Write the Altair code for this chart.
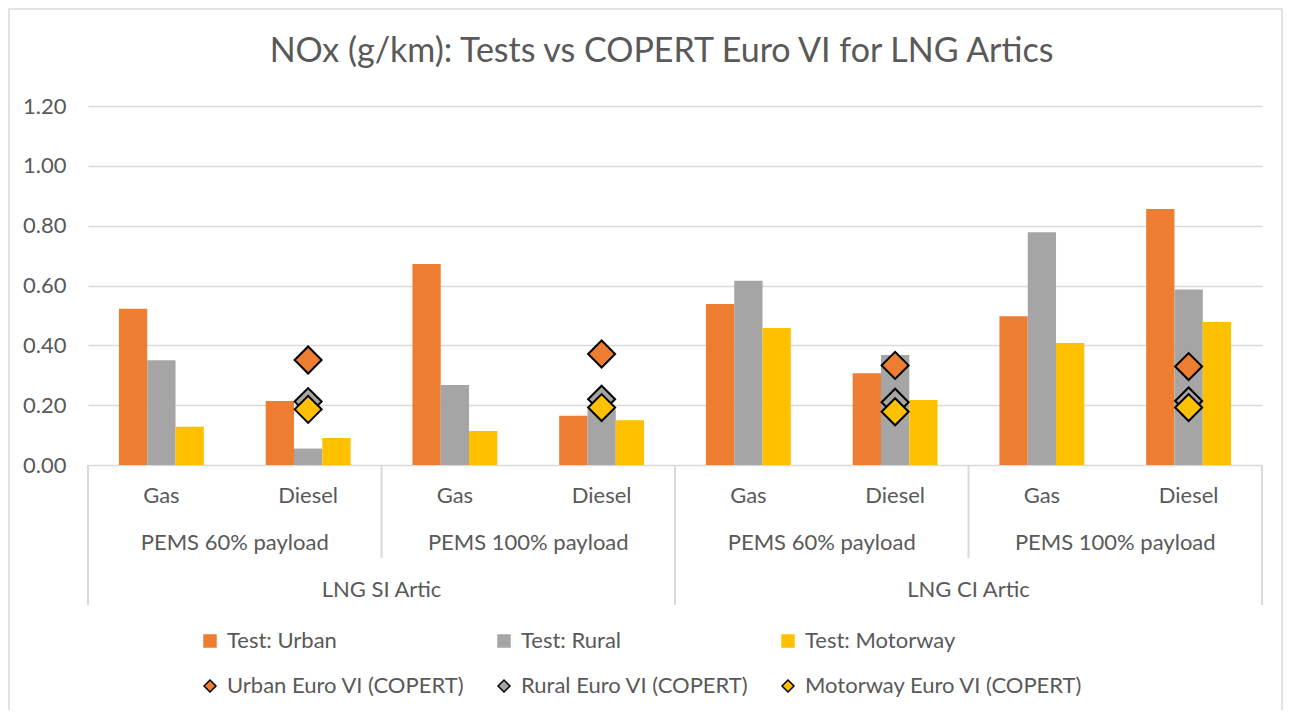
import altair as alt
import pandas as pd

# ---- data ----
title_text = "NOx (g/km): Tests vs COPERT Euro VI for LNG Artics"
groups = ["g1", "g2", "g3", "g4", "g5", "g6", "g7", "g8"]
fuel_labels = ["Gas", "Diesel", "Gas", "Diesel", "Gas", "Diesel", "Gas", "Diesel"]
payload_anchor = ["g1", "g3", "g5", "g7"]
payload_labels = ["PEMS 60% payload", "PEMS 100% payload", "PEMS 60% payload", "PEMS 100% payload"]
vehicle_anchor = ["g2", "g6"]
vehicle_labels = ["LNG SI Artic", "LNG CI Artic"]

bar_series = ["Test: Urban", "Test: Rural", "Test: Motorway"]
test_urban = [0.522, 0.214, 0.672, 0.165, 0.538, 0.307, 0.497, 0.856]
test_rural = [0.350, 0.055, 0.267, 0.186, 0.616, 0.368, 0.778, 0.587]
test_motorway = [0.128, 0.090, 0.114, 0.150, 0.458, 0.217, 0.408, 0.478]

copert_series = ["Urban Euro VI (COPERT)", "Rural Euro VI (COPERT)", "Motorway Euro VI (COPERT)"]
copert_groups = ["g2", "g4", "g6", "g8"]
copert_urban = [0.351, 0.371, 0.333, 0.329]
copert_rural = [0.212, 0.220, 0.210, 0.214]
copert_motorway = [0.186, 0.192, 0.178, 0.192]

y_ticks = [0.0, 0.2, 0.4, 0.6, 0.8, 1.0, 1.2]

all_series = bar_series + copert_series
fill_colors = ["#ED7D31", "#A5A5A5", "#FFC000", "#ED7D31", "#A5A5A5", "#FFC000"]
stroke_colors = ["#ED7D31", "#A5A5A5", "#FFC000", "#000000", "#000000", "#000000"]
shapes = ["square", "square", "square", "diamond", "diamond", "diamond"]

# ---- tables ----
bars = pd.DataFrame(
    [(g, s, v) for s, vals in zip(bar_series, [test_urban, test_rural, test_motorway])
     for g, v in zip(groups, vals)],
    columns=["grp", "series", "value"],
)
copert = pd.DataFrame(
    [(g, s, v) for s, vals in zip(copert_series, [copert_urban, copert_rural, copert_motorway])
     for g, v in zip(copert_groups, vals)],
    columns=["grp", "series", "value"],
)
lvl1 = pd.DataFrame({"grp": groups, "label": fuel_labels})
lvl2 = pd.DataFrame({"grp": payload_anchor, "label": payload_labels})
lvl3 = pd.DataFrame({"grp": vehicle_anchor, "label": vehicle_labels})

W, H = 1174, 359
FONT = "Lato"
TXT = "#595959"
GRID = "#d9d9d9"

xscale = alt.Scale(domain=groups, paddingInner=0, paddingOuter=0)
offset_domain = ["_l"] + bar_series + ["_r"]
color_scale = alt.Scale(domain=all_series, range=fill_colors)
stroke_scale = alt.Scale(domain=all_series, range=stroke_colors)
shape_scale = alt.Scale(domain=all_series, range=shapes)

legend = alt.Legend(
    title=None, orient="none", legendX=111, legendY=524, columns=3,
    direction="horizontal", labelFontSize=22, labelColor=TXT, labelFont=FONT,
    labelLimit=500, symbolSize=144, symbolStrokeWidth=1.5, columnPadding=28,
    rowPadding=23, labelOffset=6,
)

bar_layer = alt.Chart(bars).mark_bar().encode(
    x=alt.X("grp:N", scale=xscale, axis=None),
    xOffset=alt.XOffset("series:N", scale=alt.Scale(domain=offset_domain, paddingInner=0, paddingOuter=0.093)),
    y=alt.Y("value:Q", scale=alt.Scale(domain=[0, 1.2]),
            axis=alt.Axis(values=y_ticks, format=".2f", title=None, labelFontSize=22,
                          labelColor=TXT, labelFont=FONT, labelPadding=22, ticks=False,
                          domain=False, gridColor=GRID, gridWidth=1.3)),
    color=alt.Color("series:N", scale=color_scale, legend=legend),
)

diamond_layer = alt.Chart(copert).mark_point(filled=True, opacity=1, size=729, strokeWidth=2).encode(
    x=alt.X("grp:N", scale=xscale, axis=None),
    y=alt.Y("value:Q"),
    color=alt.Color("series:N", scale=color_scale, legend=legend),
    stroke=alt.Stroke("series:N", scale=stroke_scale, legend=legend),
    shape=alt.Shape("series:N", scale=shape_scale, legend=legend),
)

def labels(df, bp, yoff):
    return alt.Chart(df).mark_text(font=FONT, fontSize=22, color=TXT, baseline="middle").encode(
        x=alt.X("grp:N", scale=xscale, axis=None, bandPosition=bp),
        y=alt.value(H + yoff),
        text="label:N",
    )

l1 = labels(lvl1, 0.5, 31)
l2 = labels(lvl2, 1, 78)
l3 = labels(lvl3, 1, 125)

def seps(grps, bp, length):
    return alt.Chart(pd.DataFrame({"grp": grps})).mark_rule(color=GRID, strokeWidth=2).encode(
        x=alt.X("grp:N", scale=xscale, axis=None, bandPosition=bp),
        y=alt.value(H),
        y2=alt.value(H + length),
    )

s_long_a = seps([groups[0], groups[4]], 0, 140)
s_long_b = seps([groups[-1]], 1, 140)
s_short = seps([groups[2], groups[6]], 0, 93)

border = alt.Chart(pd.DataFrame({"grp": ["g1"]})).mark_rect(
    fill=None, stroke=GRID, strokeWidth=1.5
).encode(
    x=alt.value(-79), x2=alt.value(W + 20), y=alt.value(-97), y2=alt.value(H + 300)
)

title = alt.Chart(pd.DataFrame({"t": [title_text]})).mark_text(
    font=FONT, fontSize=34, color=TXT, baseline="middle", align="center"
).encode(
    x=alt.value(573.5), y=alt.value(-54), text="t:N"
)

chart = alt.layer(
    border, s_long_a, s_long_b, s_short, bar_layer, diamond_layer, l1, l2, l3, title
).properties(
    width=W, height=H,
    autosize=alt.AutoSizeParams(type="none"),
    padding={"left": 80, "top": 98, "right": 22, "bottom": 245},
).configure_view(stroke=None)

chart.save("out.html", embed_options={"renderer": "svg", "actions": False})
